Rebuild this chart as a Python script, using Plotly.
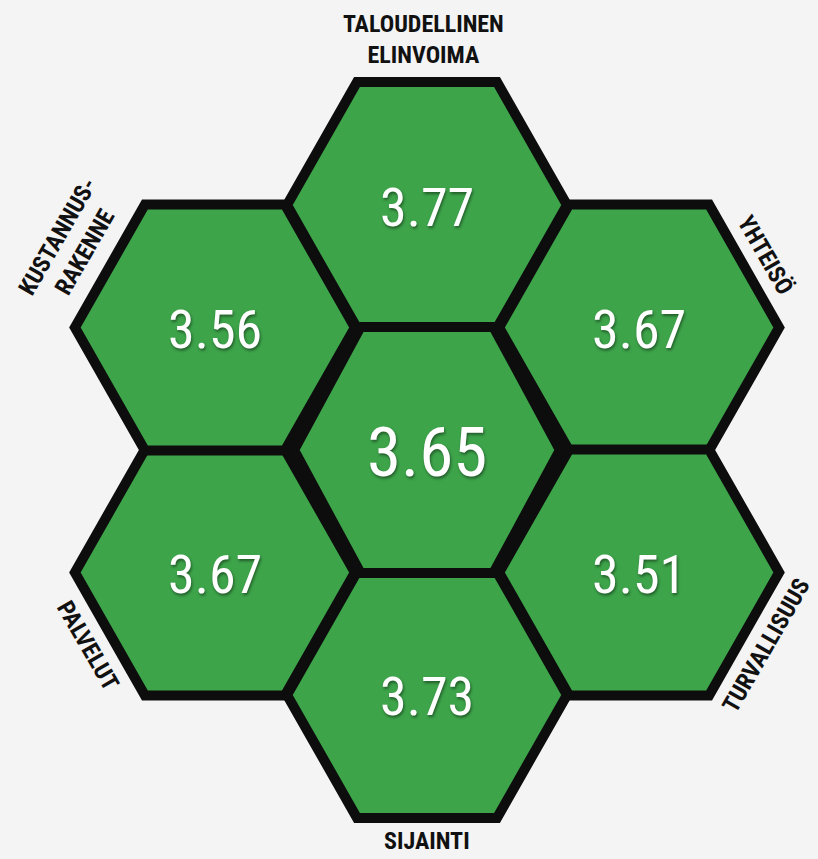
import math
import plotly.graph_objects as go

# ---- data ----
categories = ["TALOUDELLINEN<br>ELINVOIMA", "YHTEISÖ", "TURVALLISUUS",
              "SIJAINTI", "PALVELUT", "KUSTANNUS-<br>RAKENNE"]
values = [3.77, 3.67, 3.51, 3.73, 3.67, 3.56]
center_value = 3.65

# ---- layout / style ----
W, H_PX = 818, 859
CX, CY = 427, 450            # centre of honeycomb
S = 141.4                    # tiling size
R_OUT, HH = 140, 123         # hexagon half-width, half-height
R_CEN = 133                  # centre hexagon half-width
GREEN = "#3da44a"
BLACK = "#0d0d0d"
BG = "#f4f4f4"
LABEL_FONT = "Roboto Condensed, Liberation Sans Narrow, Open Sans, sans-serif"
NUM_FONT = "Roboto Condensed, Liberation Sans Narrow, Roboto, sans-serif"

# axial directions: top, upper-right, lower-right, bottom, lower-left, upper-left
axial = [(0, -1), (1, -1), (1, 0), (0, 1), (-1, 1), (-1, 0)]


def hex_xy(cx, cy, r, h):
    pts = [(0, -h), (r / 2, -h), (r, 0), (r / 2, h), (-r / 2, h), (-r, 0), (-r / 2, -h), (0, -h)]
    return [cx + p[0] for p in pts], [cy + p[1] for p in pts]


fig = go.Figure()

centres = []
for q, r in axial:
    ox = 1.5 * S * q
    oy = math.sqrt(3) * S * (r + q / 2)
    centres.append((CX + ox, CY + oy))

for (cx, cy) in centres:
    xs, ys = hex_xy(cx, cy, R_OUT, HH)
    fig.add_trace(go.Scatter(x=xs, y=ys, mode="lines", fill="toself",
                             fillcolor=GREEN,
                             line=dict(color=BLACK, width=10, simplify=False),
                             hoverinfo="skip", showlegend=False))

xs, ys = hex_xy(CX, CY, R_CEN, HH)
fig.add_trace(go.Scatter(x=xs, y=ys, mode="lines", fill="toself",
                         fillcolor=GREEN,
                         line=dict(color=BLACK, width=10, simplify=False),
                         hoverinfo="skip", showlegend=False))

annotations = []
shadow = "1px 2px 3px rgba(0,0,0,0.45)"
for (cx, cy), v in zip(centres, values):
    annotations.append(dict(x=cx, y=cy + 2, text=f"{v:.2f}", showarrow=False,
                            xanchor="center", yanchor="middle",
                            font=dict(family=NUM_FONT, size=54, color="white",
                                      shadow=shadow)))
annotations.append(dict(x=CX, y=CY + 2, text=f"{center_value:.2f}", showarrow=False,
                        xanchor="center", yanchor="middle",
                        font=dict(family=NUM_FONT, size=69, color="white",
                                  shadow=shadow)))

for (cx, cy), lab in zip(centres, categories):
    dx, dy = cx - CX, cy - CY
    d = math.hypot(dx, dy)
    ux, uy = dx / d, dy / d
    nlines = lab.count("<br>") + 1
    rad = 391 + 20 * (nlines - 1)
    a = math.degrees(math.atan2(-dy, dx))
    ang = ((90 - a + 90) % 180) - 90
    annotations.append(dict(x=CX + ux * rad - 4 * (nlines - 1) * (ux == 0), y=CY + uy * rad,
                            text=lab,
                            showarrow=False, textangle=round(ang),
                            xanchor="center", yanchor="middle", align="center",
                            font=dict(family=LABEL_FONT, size=24, color="#111111",
                                      weight="bold")))

fig.update_layout(
    width=W, height=H_PX,
    margin=dict(l=0, r=0, t=0, b=0),
    paper_bgcolor=BG, plot_bgcolor=BG,
    xaxis=dict(range=[0, W], visible=False, fixedrange=True),
    yaxis=dict(range=[H_PX, 0], visible=False, fixedrange=True),
    annotations=annotations,
)

fig.write_html("out.html", config={"displayModeBar": False},
               post_script="document.body.style.margin='0px';document.body.style.overflow='hidden';")
